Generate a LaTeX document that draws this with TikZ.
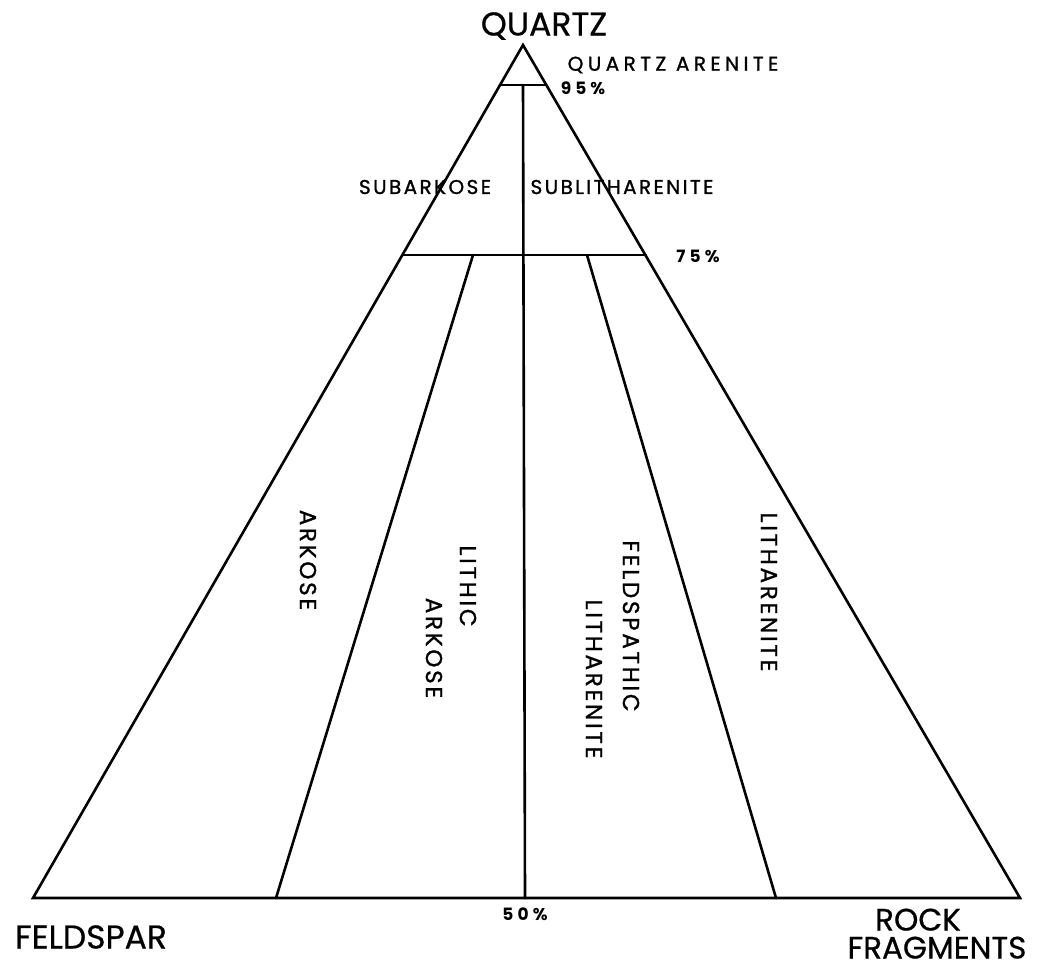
\documentclass[tikz,border=0pt]{standalone}
\usepackage{fontspec}
\setmainfont{Poppins}
\newfontfamily\capfont[FakeBold=0.6]{Poppins}
\newfontfamily\labfont[LetterSpace=12,FakeBold=1.2]{Poppins}
\newfontfamily\wlabfont[LetterSpace=22,FakeBold=1.2]{Poppins}
\newfontfamily\pctfont[LetterSpace=24]{Poppins}
\begin{document}
\begin{tikzpicture}[x=1pt,y=-1pt,
  edge/.style={line width=2.6pt,line join=miter,line cap=round},
  corner/.style={inner sep=0pt,text height=23pt,text depth=0pt,font=\capfont\fontsize{33}{36}\selectfont},
  field/.style={inner sep=0pt,font=\labfont\fontsize{20}{22}\selectfont},
  wfield/.style={inner sep=0pt,font=\wlabfont\fontsize{20}{22}\selectfont},
  vfield/.style={inner sep=0pt,rotate=-90,font=\labfont\fontsize{23}{25}\selectfont},
  pct/.style={inner sep=0pt,font=\pctfont\bfseries\fontsize{17}{19}\selectfont}]
\useasboundingbox (0,0) rectangle (1048,970);
% vertices and division points
\coordinate (Q) at (523,45);
\coordinate (F) at (33,898);
\coordinate (R) at (1020,898);
\coordinate (p95L) at (500,85);
\coordinate (p95R) at (546,85);
\coordinate (c95) at (523,85);
\coordinate (p75L) at (403,255);
\coordinate (p75R) at (646,255);
\coordinate (a75) at (473,255);
\coordinate (b75) at (587,255);
\coordinate (aB) at (276,898);
\coordinate (cB) at (525,898);
\coordinate (bB) at (776,898);
% lines
\draw[edge] (Q) -- (F) -- (R) -- cycle;
\draw[edge] (p95L) -- (p95R);
\draw[edge] (p75L) -- (p75R);
\draw[edge] (c95) -- (cB);
\draw[edge] (a75) -- (aB);
\draw[edge] (b75) -- (bB);
% corner labels
\node[corner] (quartz) at (544,24) {QUARTZ};
\node[corner] (feldspar) at (91,937) {FELDSPAR};
\node[corner,text height=21pt,font=\capfont\fontsize{31}{34}\selectfont] (rock) at (918,920) {ROCK};
\node[corner,text height=21pt,font=\capfont\fontsize{31}{34}\selectfont] (fragments) at (937,948) {FRAGMENTS};
% field labels
\node[wfield] (qa) at (673,65) {QUARTZ ARENITE};
\node[field] (subark) at (425,187) {SUBARKOSE};
\node[field] (sublith) at (622,187) {SUBLITHARENITE};
\node[vfield] (arkose) at (308,560) {ARKOSE};
\node[vfield] (lithic) at (468,586) {LITHIC};
\node[vfield] (lark) at (434,648) {ARKOSE};
\node[vfield] (feld) at (631,626) {FELDSPATHIC};
\node[vfield] (flith) at (594,679) {LITHARENITE};
\node[vfield] (lith) at (769,592) {LITHARENITE};
% percentages
\node[pct] (p95) at (583,88) {95\%};
\node[pct] (p75) at (698,256) {75\%};
\node[pct] (p50) at (525,914) {50\%};
\end{tikzpicture}
\end{document}
